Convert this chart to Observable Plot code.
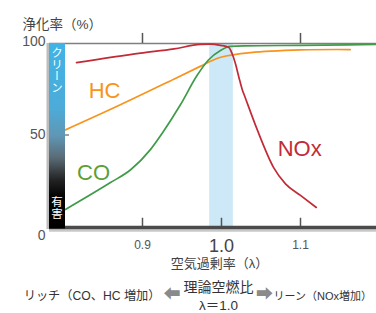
<!DOCTYPE html>
<html><head><meta charset="utf-8">
<script src="https://cdn.jsdelivr.net/npm/d3@7"></script>
<script src="https://cdn.jsdelivr.net/npm/@observablehq/plot@0.6"></script>
<style>body{margin:0;background:#fff;}</style>
</head><body><div id="chart"></div>
<script>
// ---- data ----
const noxLambda = [0.8165, 0.8975, 0.94, 0.973, 0.986, 0.999, 1.009, 1.0135, 1.0177, 1.022, 1.026, 1.030, 1.0456, 1.066, 1.081, 1.100, 1.120];
const noxValue  = [89.5, 94.7, 97.1, 99.5, 99.7, 99.0, 98.0, 94.4, 88.9, 81.6, 75.2, 70.5, 52.5, 32.2, 23.3, 17.0, 10.4];
const coLambda  = [0.8025, 0.8595, 0.885, 0.910, 0.925, 0.948, 0.969, 0.9835, 0.9987, 1.011, 1.03, 1.10, 1.196];
const coValue   = [9.3, 24.0, 31.0, 42.0, 51.0, 66.5, 82.5, 91.0, 96.2, 98.4, 98.7, 99.0, 99.5];
const hcLambda  = [0.8025, 0.872, 0.9396, 0.973, 0.986, 0.999, 1.0367, 1.100, 1.163];
const hcValue   = [52.8, 66.5, 80.5, 87.5, 90.3, 92.5, 95.0, 96.5, 96.7];
const seriesNames = ["HC", "CO", "NOx"];
const labelLambda = [0.852, 0.838, 1.099];
const labelValue  = [74.3, 29.0, 42.6];
const xTicksSmall = [0.9, 1.1];
const xTickMain = [1.0];
const xTicksBottom = [0.9, 1.0, 1.1];
const xTicksTop = [0.9, 1.1];
const yTicks = [0, 50, 100];
const stoichBand = [[0.985, 1.015]];
const yTitle = "浄化率（%）";
const xTitle = "空気過剰率（λ）";
const cleanLabel = "クリーン";
const harmLabel = "有害";
const captionRich = "リッチ（CO、HC 増加）";
const captionStoich = "理論空燃比";
const captionLambda = "λ＝1.0";
const captionLean = "リーン（NOx増加）";
const arrowLeft = "⬅";
const arrowRight = "➡";

const rows = (ls, vs) => ls.map((l, i) => ({lambda: l, value: vs[i]}));
const colors = {HC: "#f7941d", CO: "#3f9b47", NOx: "#c22b36"};
const labelColors = {HC: "#f7941d", CO: "#5b9e3a", NOx: "#c22b36"};
const labels = seriesNames.map((s, i) => ({name: s, lambda: labelLambda[i], value: labelValue[i]}));
const fam = '"Liberation Sans","Noto Sans CJK JP",sans-serif';

const cap = (txt, dx, dy, anchor, size, fill) =>
  Plot.text([txt], {text: d => d, frameAnchor: "bottom-left", dx, dy, textAnchor: anchor, fontSize: size, fill});

const chart = Plot.plot({
  width: 376, height: 313,
  marginTop: 43, marginBottom: 87, marginLeft: 49, marginRight: 0,
  x: {domain: [0.7823, 1.1962], axis: null},
  y: {domain: [0, 100], axis: null},
  style: {fontFamily: fam, background: "#fff", overflow: "visible"},
  marks: [
    Plot.rect(stoichBand, {x1: d => d[0], x2: d => d[1], fill: "#cde9f7"}),
    Plot.ruleY([100], {stroke: "#808080", strokeWidth: 1.5}),
    Plot.ruleX(xTicksTop, {y1: 100, y2: 105.5, stroke: "#555", strokeWidth: 1.5}),
    Plot.ruleX(xTicksBottom, {y1: 0, y2: 4.5, stroke: "#555", strokeWidth: 1.5}),
    Plot.line(rows(hcLambda, hcValue), {x: "lambda", y: "value", stroke: colors.HC, strokeWidth: 1.7, curve: "catmull-rom"}),
    Plot.line(rows(coLambda, coValue), {x: "lambda", y: "value", stroke: colors.CO, strokeWidth: 1.7, curve: "monotone-x"}),
    Plot.line(rows(noxLambda, noxValue), {x: "lambda", y: "value", stroke: colors.NOx, strokeWidth: 1.7, curve: "monotone-x"}),
    Plot.ruleY([0], {stroke: "#c8c8c8", strokeWidth: 2.5, dy: 4}),
    Plot.ruleY([0], {stroke: "#4a4a4a", strokeWidth: 3.5, dy: 1}),
    Plot.text(labels, {x: "lambda", y: "value", text: "name", fill: d => labelColors[d.name], fontSize: 22}),
    Plot.axisX({ticks: xTicksSmall, tickSize: 0, tickPadding: 14, fontSize: 12, tickFormat: d => d.toFixed(1), fill: "#555", label: null}),
    Plot.axisX({ticks: xTickMain, tickSize: 0, tickPadding: 13, fontSize: 18, tickFormat: d => d.toFixed(1), fill: "#444", label: null}),
    Plot.axisY({ticks: [yTicks[2]], tickSize: 0, tickPadding: 4, fontSize: 14, fill: "#555", dy: -2, label: null}),
    Plot.axisY({ticks: [yTicks[1]], tickSize: 0, tickPadding: 4, fontSize: 14, fill: "#555", label: null}),
    Plot.axisY({ticks: [yTicks[0]], tickSize: 0, tickPadding: 4, fontSize: 14, fill: "#555", dy: 9, label: null}),
    Plot.axisY({ticks: [yTicks[1]], tickSize: 4, tickFormat: () => "", dx: 20, stroke: "#444", label: null}),
    Plot.text([yTitle], {text: d => d, frameAnchor: "top-left", dx: -27, dy: -24.5, textAnchor: "start", fontSize: 13.5, fill: "#444"}),
    Plot.text([xTitle], {text: d => d, frameAnchor: "bottom-left", dx: 170, dy: 41, textAnchor: "middle", fontSize: 13, fill: "#444"}),
    cap(captionRich, 111, 73, "end", 12.2, "#333"),
    cap(arrowLeft, 122.5, 73, "middle", 17, "#8a8a8a"),
    cap(captionStoich, 169, 65, "middle", 14, "#333"),
    cap(captionLambda, 169, 83.5, "middle", 13.5, "#333"),
    cap(arrowRight, 215, 73, "middle", 17, "#8a8a8a"),
    cap(captionLean, 224, 73, "start", 11, "#333")
  ]
});

// colour bar (clean -> harmful) along the left edge of the frame
const svgSel = d3.select(chart);
const frameLeft = chart.scale("x").range[0];
const [frameBottom, frameTop] = chart.scale("y").range;
const barW = 16;
const defs = svgSel.insert("defs", ":first-child");
const grad = defs.append("linearGradient").attr("id", "cbar").attr("x1", 0).attr("y1", 0).attr("x2", 0).attr("y2", 1);
[[0, "#3fb4e6"], [0.35, "#4dabd9"], [0.5, "#5f97b5"], [0.62, "#5a6a75"], [0.74, "#222"], [0.82, "#050505"], [1, "#000"]]
  .forEach(([o, c]) => grad.append("stop").attr("offset", o).attr("stop-color", c));
const gb = svgSel.append("g");
gb.append("rect").attr("x", frameLeft - 2.5).attr("y", frameTop).attr("width", 2.5).attr("height", frameBottom - frameTop + 3).attr("fill", "#bdbdbd");
gb.append("rect").attr("x", frameLeft).attr("y", frameTop).attr("width", barW).attr("height", frameBottom - frameTop + 2.5).attr("fill", "url(#cbar)");
gb.append("text").text(cleanLabel).attr("x", frameLeft + barW / 2).attr("y", frameTop + 4)
  .attr("fill", "#fff").attr("font-size", 11.5).attr("font-family", '"Noto Sans CJK JP",sans-serif')
  .style("writing-mode", "vertical-rl").attr("text-anchor", "start");
gb.append("text").text(harmLabel).attr("x", frameLeft + barW / 2).attr("y", frameTop + 153)
  .attr("fill", "#fff").attr("font-size", 11.5).attr("font-family", '"Noto Sans CJK JP",sans-serif')
  .style("writing-mode", "vertical-rl").attr("text-anchor", "start");

document.getElementById("chart").appendChild(chart);
</script>
</body></html>
